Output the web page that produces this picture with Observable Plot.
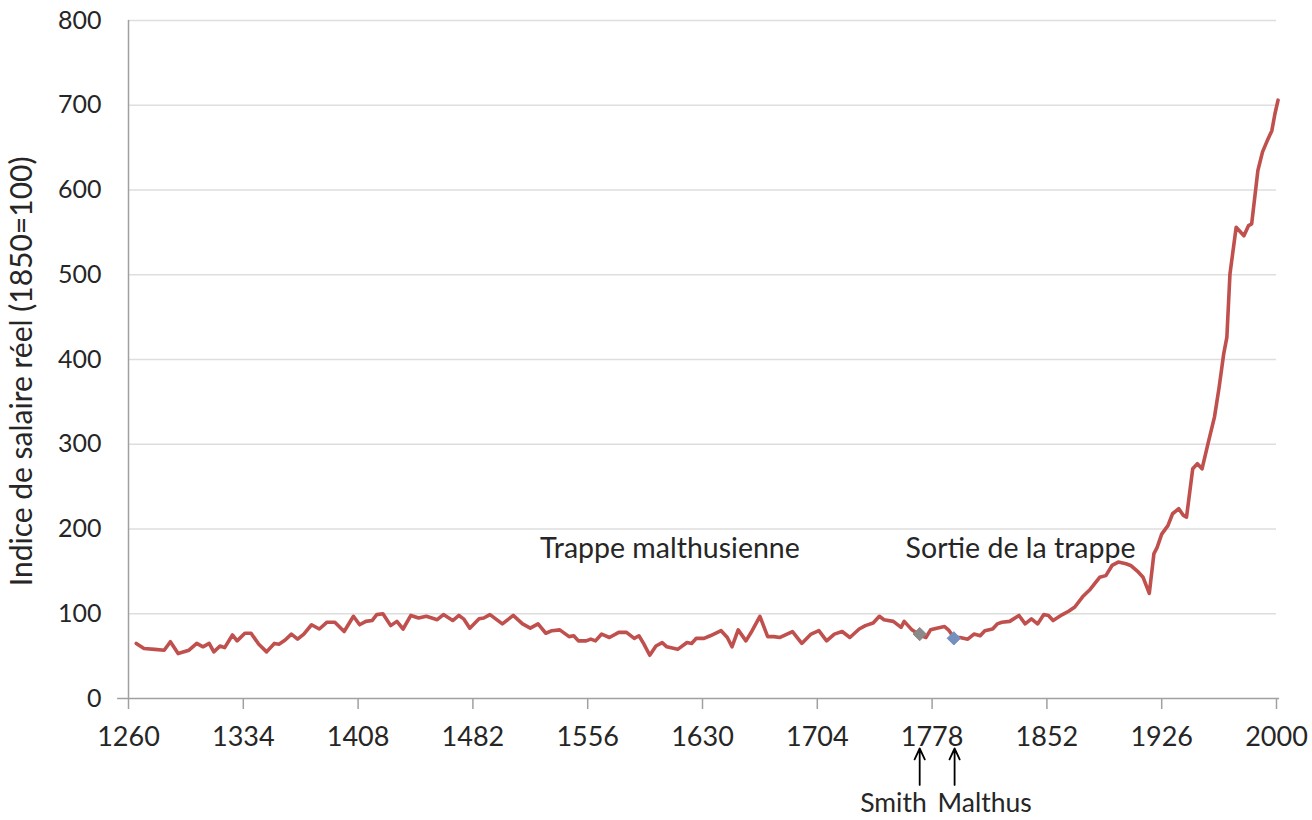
<!DOCTYPE html>
<html>
<head>
<meta charset="utf-8">
<script src="https://cdn.jsdelivr.net/npm/d3@7"></script>
<script src="https://cdn.jsdelivr.net/npm/@observablehq/plot@0.6"></script>
<style>
  html, body { margin: 0; padding: 0; background: #fff; }
  #chart { width: 1312px; height: 820px; }
</style>
</head>
<body>
<div id="chart"></div>
<script>
const years = [
  1265,1270,1277,1283,1287,1292,1299,1304,1308,1312,1315,1319,1322,1327,1330,1335,1339,1344,1349,1354,
  1357,1361,1365,1369,1373,1378,1383,1388,1393,1399,1405,1409,1413,1417,1420,1424,1429,1433,1437,1442,
  1447,1452,1459,1463,1469,1473,1476,1480,1486,1489,1493,1501,1508,1514,1519,1524,1529,1533,1538,1544,
  1547,1550,1555,1558,1561,1565,1570,1576,1581,1586,1589,1592,1596,1600,1604,1607,1614,1620,1623,1626,
  1631,1635,1642,1646,1649,1653,1658,1662,1667,1672,1676,1680,1688,1694,1700,1705,1710,1715,1720,1725,
  1731,1735,1740,1744,1747,1753,1758,1760,1765,1770,1774,1777,1781,1786,1789,1792,1796,1801,1805,1809,
  1812,1817,1820,1823,1828,1834,1838,1842,1846,1850,1853,1856,1862,1866,1870,1875,1880,1886,1890,1894,
  1898,1903,1906,1911,1914,1918,1921,1923,1926,1930,1933,1937,1940,1942,1946,1949,1952,1956,1960,1963,
  1966,1968,1970,1974,1979,1982,1984,1988,1991,1994,1997,1999,2001
];
const wages = [
  65,59,58,57,67,53,57,65,61,65,55,62,60,75,68,77,77,64,55,65,
  64,69,76,70,76,87,82,90,90,79,97,87,91,92,99,100,86,91,82,98,
  95,97,93,99,92,98,94,83,94,95,99,88,98,88,83,88,77,80,81,73,
  74,68,68,70,68,76,72,78,78,71,74,65,51,62,66,61,58,66,65,71,
  71,74,80,72,61,81,68,80,97,73,73,72,79,65,76,80,68,76,79,72,
  82,86,89,97,93,91,84,91,81,75,72,81,83,85,80,72,72,70,76,74,
  80,82,88,90,91,98,88,94,88,99,98,92,99,103,108,120,129,143,145,157,
  161,159,157,149,143,124,171,178,194,204,218,224,216,214,271,277,271,302,332,367,
  407,426,501,556,546,558,560,623,645,658,670,690,706
];

const xTicks = [1260,1334,1408,1482,1556,1630,1704,1778,1852,1926,2000];
const yTicks = [0,100,200,300,400,500,600,700,800];

const markerYears = [1770, 1792];
const markerValues = [76, 71];
const markerColors = ["#8a8a8a", "#7390bf"];

const arrowYears = [1770, 1792.5];
const personNames = ["Smith", "Malthus"];

const annotationTexts = ["Trappe malthusienne", "Sortie de la trappe"];
const annotationYears = [1609, 1835];

const yTitle = "Indice de salaire réel (1850=100)";

const series = years.map((y, i) => ({year: y, wage: wages[i]}));
const markers = markerYears.map((y, i) => ({year: y, wage: markerValues[i], color: markerColors[i]}));
const arrows = arrowYears.map((y, i) => ({year: y, name: personNames[i]}));
const notes = annotationTexts.map((t, i) => ({text: t, year: annotationYears[i]}));

const font = "Lato, 'Open Sans', sans-serif";
const axisGray = "#a0a0a0";

const chart = Plot.plot({
  width: 1312,
  height: 820,
  marginTop: 20,
  marginRight: 36,
  marginBottom: 122,
  marginLeft: 128,
  style: {fontFamily: font, fontSize: "25px", color: "#262626", background: "#fff", overflow: "visible"},
  x: {domain: [1260, 2000]},
  y: {domain: [0, 800]},
  marks: [
    Plot.ruleY(yTicks.filter(d => d > 0), {stroke: "#dedede", strokeWidth: 1.3}),
    Plot.axisY({ticks: yTicks, tickSize: 0, tickPadding: 27, label: null, fontSize: 25, fill: "#262626"}),
    Plot.axisX({ticks: xTicks, tickFormat: d => String(d), tickSize: 11, tickPadding: 17, label: null,
                stroke: axisGray, strokeWidth: 1.5, fontSize: 27, fill: "#262626"}),
    Plot.ruleY([0], {x1: 1253, x2: 2002, stroke: axisGray, strokeWidth: 1.5}),
    Plot.ruleX([1260], {y1: 0, y2: 800, stroke: axisGray, strokeWidth: 1.5}),
    Plot.text([yTitle], {x: () => 1260, y: () => 386, text: d => d, rotate: -90, dx: -106,
                         fontSize: 30, fill: "#262626"}),
    Plot.line(series, {x: "year", y: "wage", stroke: "#c0504d", strokeWidth: 3.6, curve: "linear"}),
    Plot.dot(markers, {x: "year", y: "wage", symbol: "diamond2", r: 6, fill: "color", stroke: "color", strokeWidth: 1}),
    Plot.text(notes, {x: "year", y: () => 177, text: "text", fontSize: 28.5, fill: "#262626"}),
    Plot.arrow(arrows, {x1: "year", x2: "year", y1: () => -102, y2: () => -59,
                        stroke: "#000", strokeWidth: 1.8, headLength: 10, headAngle: 50}),
    Plot.text(arrows.slice(0, 1), {x: () => 1774.5, y: () => -123.5, text: "name", textAnchor: "end", fontSize: 26.5, fill: "#262626"}),
    Plot.text(arrows.slice(1), {x: () => 1781.5, y: () => -123.5, text: "name", textAnchor: "start", fontSize: 26.5, fill: "#262626"})
  ]
});
document.getElementById("chart").appendChild(chart);
</script>
</body>
</html>
